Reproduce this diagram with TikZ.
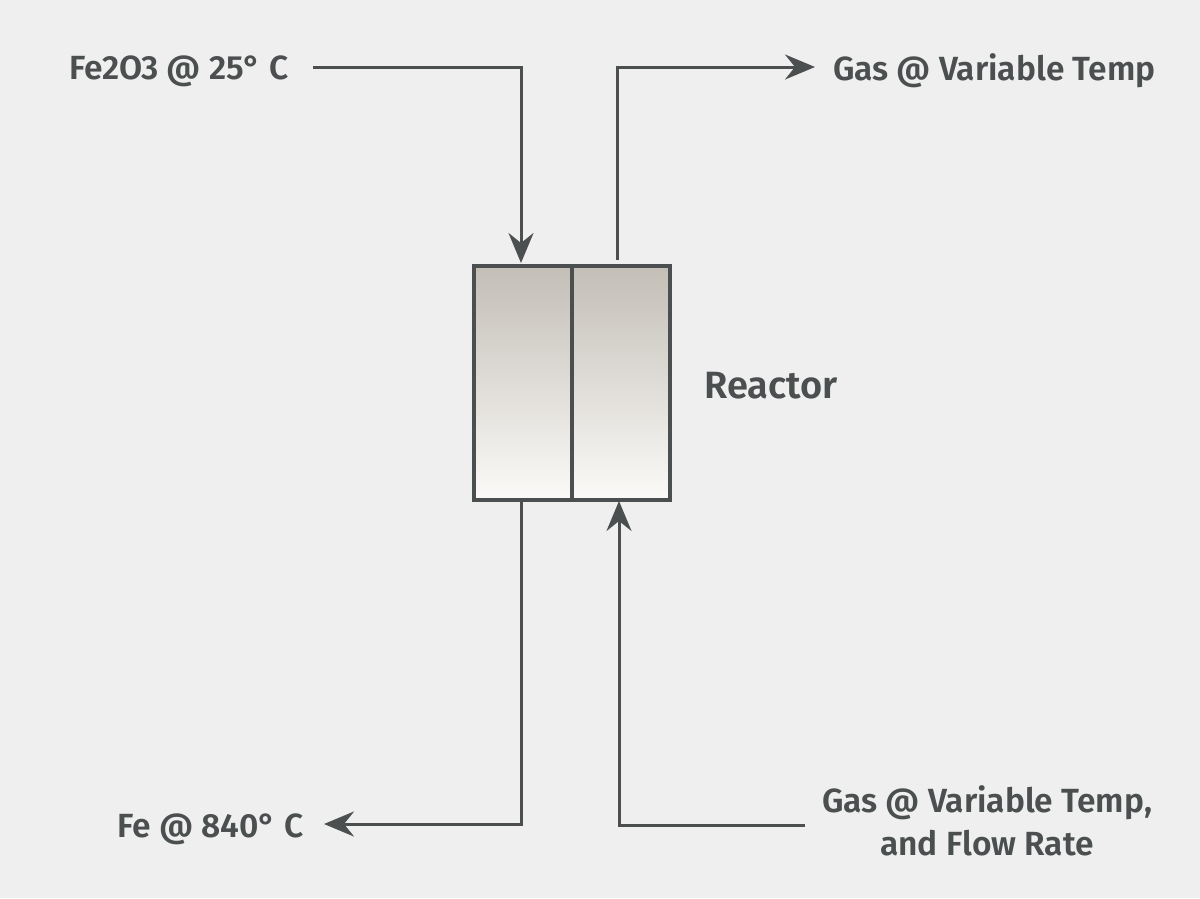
\documentclass[tikz,border=0pt]{standalone}
\usepackage{fontspec}
\IfFontExistsTF{Fira Sans SemiBold}{\newfontfamily\labfont{Fira Sans SemiBold}}{%
  \IfFontExistsTF{Fira Sans Medium}{\newfontfamily\labfont{Fira Sans Medium}}{\newfontfamily\labfont{Fira Sans}}}
\usetikzlibrary{arrows.meta}
\definecolor{bg}{HTML}{EFEFEF}
\definecolor{ink}{HTML}{4B4F4F}
\definecolor{topc}{HTML}{C3BEB6}
\definecolor{botc}{HTML}{FBFAF8}
\begin{document}
\begin{tikzpicture}[x=1pt,y=-1pt,
  conn/.style={draw=ink,line width=3pt},
  arr/.style={conn,-{Stealth[length=30pt,width=25pt,inset=10pt]}},
  lab/.style={text=ink,font=\labfont\fontsize{33.5}{43}\selectfont,inner sep=0pt}]
\fill[bg] (0,0) rectangle (1200,898);
\useasboundingbox (0,0) rectangle (1200,898);
% reactor
\node[draw=ink,line width=3.5pt,minimum width=196pt,minimum height=234pt,
  top color=topc,bottom color=botc,inner sep=0pt,anchor=north west] (reactor) at (472,264) {};
\draw[ink,line width=3.5pt] (reactor.north) -- (reactor.south);
% labels
\node[lab,anchor=base west] (fe2o3) at (69,79) {Fe2O3 @ 25° C};
\node[lab,anchor=base west] (gasout) at (833,80) {Gas @ Variable Temp};
\node[lab,anchor=base west,font=\labfont\fontsize{38}{46}\selectfont] (reactorlab) at (704,398) {Reactor};
\node[lab,anchor=base west] (fe) at (117,837) {Fe @ 840° C};
\node[lab,align=center] (gasin) at (987,821) {Gas @ Variable Temp,\\and Flow Rate};
% connector points
\coordinate (a0) at (313,67);
\coordinate (a1) at (521,263);
\coordinate (b0) at (617,260);
\coordinate (b1) at (815,67);
\coordinate (c0) at (521,501);
\coordinate (c1) at (324,824);
\coordinate (d0) at (805,825);
\coordinate (d1) at (619,501);
% connectors
\draw[arr] (a0) -| (a1);
\draw[arr] (b0) |- (b1);
\draw[arr] (c0) |- (c1);
\draw[arr] (d0) -| (d1);
\end{tikzpicture}
\end{document}
